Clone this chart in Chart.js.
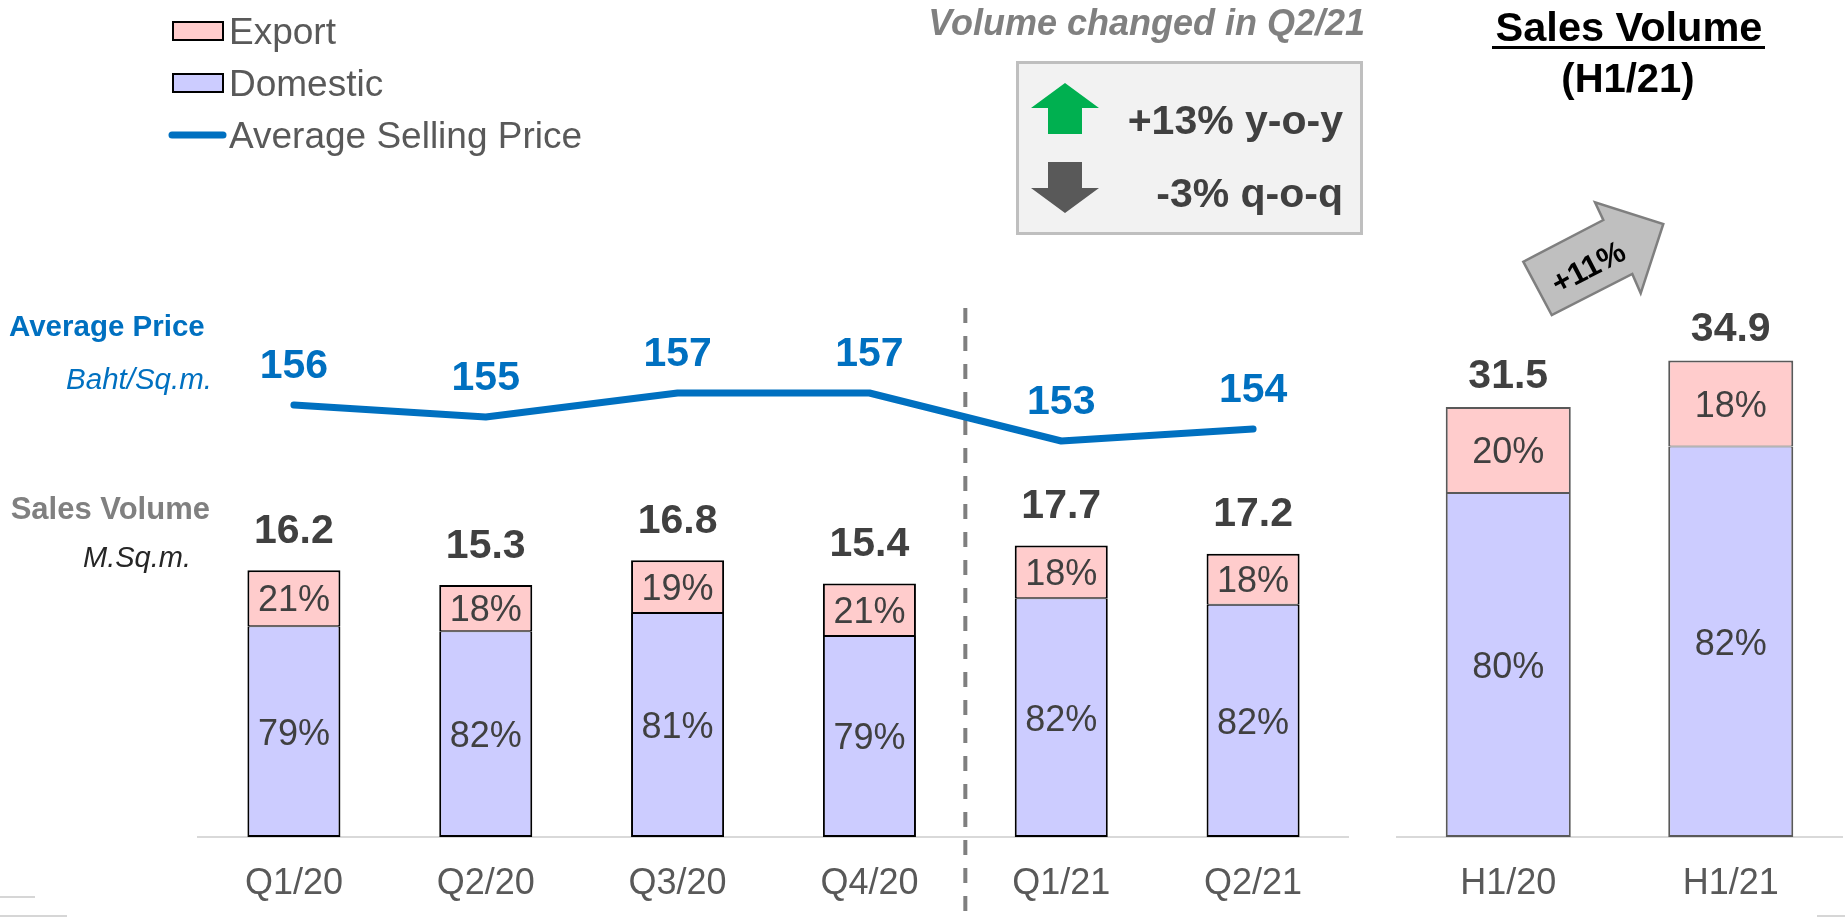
<!DOCTYPE html>
<html><head><meta charset="utf-8">
<script src="https://cdn.jsdelivr.net/npm/chart.js@4.4.1/dist/chart.umd.min.js"></script>
<style>
html,body{margin:0;padding:0;background:#fff;width:1845px;height:923px;overflow:hidden;font-family:'Liberation Sans',Arial,sans-serif;}
.t{position:absolute;white-space:nowrap;line-height:1;}
canvas{position:absolute;top:0;}
.abs{position:absolute;}
</style></head><body>
<canvas id="left" width="1349" height="923" style="left:0"></canvas>
<canvas id="right" width="496" height="923" style="left:1349px"></canvas>

<div class="abs" style="left:1016px;top:61px;width:341px;height:168px;background:#F2F2F2;border:3px solid #BFBFBF;"></div>
<svg class="abs" style="left:0;top:0" width="1845" height="923">
  <polygon points="1065,83 1099,108 1082,108 1082,134 1048,134 1048,108 1031,108" fill="#00B050"/>
  <polygon points="1048,162 1082,162 1082,188 1099,188 1065,213 1031,188 1048,188" fill="#595959"/>
  <polygon points="1551.7,315 1523.3,261.7 1603.3,220 1595,202.3 1663.3,224 1640.7,293.3 1632.3,274" fill="#BFBFBF" stroke="#7F7F7F" stroke-width="2.5" stroke-linejoin="miter"/>
  <text x="1588" y="266.7" transform="rotate(-27.5 1588 266.7)" text-anchor="middle" dy="11" font-family="'Liberation Sans',Arial,sans-serif" font-weight="bold" font-size="31" fill="#000">+11%</text>
  <line x1="172" y1="135" x2="223" y2="135" stroke="#0070C0" stroke-width="7" stroke-linecap="round"/>
  <line x1="0" y1="897" x2="35" y2="897" stroke="#D6D6D6" stroke-width="2"/>
  <line x1="0" y1="916" x2="67" y2="916" stroke="#D6D6D6" stroke-width="2"/>
  <line x1="1817" y1="916" x2="1845" y2="916" stroke="#D6D6D6" stroke-width="2"/>
</svg>
<div class="abs" style="left:172px;top:21px;width:48px;height:16px;background:#FFCCCC;border:2px solid #000;"></div>
<div class="abs" style="left:172px;top:73px;width:48px;height:16px;background:#CCCCFF;border:2px solid #000;"></div>
<div class="abs" style="left:1492px;top:46px;width:273px;height:3px;background:#000;"></div>

<script>
// ---- data ----
const quarterLabels = ['Q1/20', 'Q2/20', 'Q3/20', 'Q4/20', 'Q1/21', 'Q2/21'];
const quarterDomestic = [12.8, 12.5, 13.6, 12.2, 14.5, 14.1];
const quarterExport = [3.4, 2.8, 3.2, 3.2, 3.2, 3.1];
const quarterTotalLabels = ['16.2', '15.3', '16.8', '15.4', '17.7', '17.2'];
const quarterDomesticShare = ['79%', '82%', '81%', '79%', '82%', '82%'];
const quarterExportShare = ['21%', '18%', '19%', '21%', '18%', '18%'];
const avgPrice = [156, 155, 157, 157, 153, 154];
const halfLabels = ['H1/20', 'H1/21'];
const halfDomestic = [25.2, 28.6];
const halfExport = [6.3, 6.3];
const halfTotalLabels = ['31.5', '34.9'];
const halfDomesticShare = ['80%', '82%'];
const halfExportShare = ['20%', '18%'];

const FONT = "'Liberation Sans', Arial, sans-serif";

function txt(s, o) {
  const d = document.createElement('div');
  d.className = 't';
  d.textContent = s;
  d.style.fontSize = o.fs + 'px';
  if (o.bold) d.style.fontWeight = 'bold';
  if (o.italic) d.style.fontStyle = 'italic';
  d.style.color = o.color;
  d.style.top = (o.cy - 0.4885 * o.fs) + 'px';
  d.style.left = o.x + 'px';
  if (o.align === 'right') d.style.transform = 'translateX(-100%)';
  if (o.align === 'center') d.style.transform = 'translateX(-50%)';
  document.body.appendChild(d);
}
txt('Export', {x: 229, cy: 31, fs: 37, color: '#595959'});
txt('Domestic', {x: 229, cy: 83, fs: 37, color: '#595959'});
txt('Average Selling Price', {x: 229, cy: 135, fs: 37, color: '#595959'});
txt('Average Price', {x: 9, cy: 325.7, fs: 29.5, bold: true, color: '#0070C0'});
txt('Baht/Sq.m.', {x: 212, cy: 378, fs: 29.5, italic: true, color: '#0070C0', align: 'right'});
txt('Sales Volume', {x: 10.7, cy: 508, fs: 31, bold: true, color: '#808080'});
txt('M.Sq.m.', {x: 191, cy: 557, fs: 29, italic: true, color: '#262626', align: 'right'});
txt('Volume changed in Q2/21', {x: 1365, cy: 22.5, fs: 36, bold: true, italic: true, color: '#808080', align: 'right'});
txt('+13% y-o-y', {x: 1343, cy: 119.7, fs: 41, bold: true, color: '#404040', align: 'right'});
txt('-3% q-o-q', {x: 1343, cy: 193, fs: 41, bold: true, color: '#404040', align: 'right'});
txt('Sales Volume', {x: 1629, cy: 26.7, fs: 41.5, bold: true, color: '#000', align: 'center'});
txt('(H1/21)', {x: 1628, cy: 77.5, fs: 40, bold: true, color: '#000', align: 'center'});

function labelPlugin(opts) {
  return {
    id: 'barLabels',
    afterDatasetsDraw(chart) {
      const ctx = chart.ctx;
      ctx.save();
      ctx.textAlign = 'center';
      ctx.textBaseline = 'alphabetic';
      const dom = chart.getDatasetMeta(0), exp = chart.getDatasetMeta(1);
      dom.data.forEach((el, i) => {
        const e = exp.data[i];
        ctx.font = '36px ' + FONT;
        ctx.fillStyle = '#404040';
        ctx.fillText(opts.domShare[i], el.x, (el.y + el.base) / 2 + 0.358 * 36);
        ctx.fillText(opts.expShare[i], e.x, (e.y + e.base) / 2 + 0.358 * 36);
        ctx.font = 'bold 41px ' + FONT;
        ctx.fillText(opts.totals[i], e.x, e.y - opts.totalGap + 0.358 * 41);
      });
      if (opts.line) {
        const lm = chart.getDatasetMeta(2);
        ctx.font = 'bold 41px ' + FONT;
        ctx.fillStyle = '#0070C0';
        lm.data.forEach((p, i) => ctx.fillText(String(avgPrice[i]), p.x, p.y - 42 + 0.358 * 41));
      }
      ctx.restore();
    }
  };
}
const dividerPlugin = {
  id: 'divider',
  beforeDatasetsDraw(chart) {
    const xs = chart.scales.x, ctx = chart.ctx;
    const x = (xs.getPixelForValue(3) + xs.getPixelForValue(4)) / 2;
    ctx.save();
    ctx.strokeStyle = '#7F7F7F';
    ctx.lineWidth = 4;
    ctx.setLineDash([15, 13]);
    ctx.beginPath();
    ctx.moveTo(x, 308);
    ctx.lineTo(x, 923);
    ctx.stroke();
    ctx.restore();
  }
};

function xScale() {
  return {
    stacked: true,
    grid: {display: false, drawTicks: false},
    border: {display: true, color: '#D9D9D9', width: 2},
    ticks: {color: '#595959', font: {family: FONT, size: 36}, padding: 25, maxRotation: 0, autoSkip: false},
    afterFit(s) { s.height = 86; }
  };
}
const domBorder = {top: 1, left: 2, right: 2, bottom: 2};
const expBorder = {top: 2, left: 2, right: 2, bottom: 1};

new Chart(document.getElementById('left'), {
  type: 'bar',
  data: {
    labels: quarterLabels,
    datasets: [
      {label: 'Domestic', data: quarterDomestic, backgroundColor: '#CCCCFF', borderColor: '#000', borderWidth: domBorder, borderSkipped: false, barPercentage: 0.485, categoryPercentage: 1, yAxisID: 'y', order: 1},
      {label: 'Export', data: quarterExport, backgroundColor: '#FFCCCC', borderColor: '#000', borderWidth: expBorder, borderSkipped: false, barPercentage: 0.485, categoryPercentage: 1, yAxisID: 'y', order: 2},
      {type: 'line', label: 'Average Selling Price', data: avgPrice, yAxisID: 'y2', borderColor: '#0070C0', borderWidth: 7, pointRadius: 0, borderCapStyle: 'round', borderJoinStyle: 'round', tension: 0, order: 0, fill: false}
    ]
  },
  options: {
    responsive: false, animation: false, devicePixelRatio: 1,
    layout: {padding: {left: 198, right: 0, top: 343, bottom: 0}},
    plugins: {legend: {display: false}, tooltip: {enabled: false}},
    scales: {
      x: xScale(),
      y: {stacked: true, display: false, min: 0, max: 30},
      y2: {display: false, min: 120, max: 161.1667}
    }
  },
  plugins: [dividerPlugin, labelPlugin({domShare: quarterDomesticShare, expShare: quarterExportShare, totals: quarterTotalLabels, totalGap: 42, line: true})]
});

new Chart(document.getElementById('right'), {
  type: 'bar',
  data: {
    labels: halfLabels,
    datasets: [
      {label: 'Domestic', data: halfDomestic, backgroundColor: '#CCCCFF', borderColor: '#595959', borderWidth: domBorder, borderSkipped: false, barPercentage: 0.562, categoryPercentage: 1},
      {label: 'Export', data: halfExport, backgroundColor: '#FFCCCC', borderColor: '#595959', borderWidth: expBorder, borderSkipped: false, barPercentage: 0.562, categoryPercentage: 1}
    ]
  },
  options: {
    responsive: false, animation: false, devicePixelRatio: 1,
    layout: {padding: {left: 48, right: 3, top: 291, bottom: 0}},
    plugins: {legend: {display: false}, tooltip: {enabled: false}},
    scales: {
      x: xScale(),
      y: {stacked: true, display: false, min: 0, max: 40}
    }
  },
  plugins: [labelPlugin({domShare: halfDomesticShare, expShare: halfExportShare, totals: halfTotalLabels, totalGap: 34, line: false})]
});
</script>
</body></html>
